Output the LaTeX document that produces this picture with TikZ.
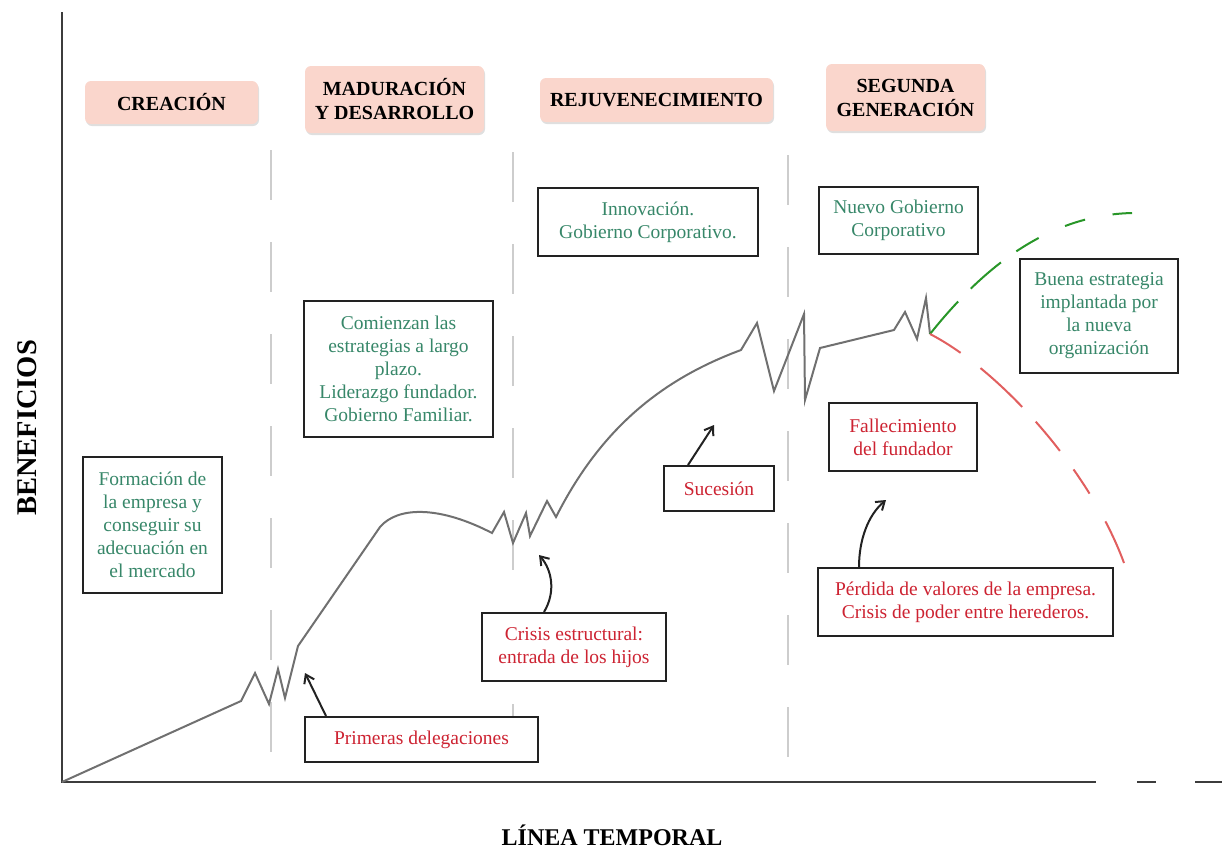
\documentclass[tikz,border=0pt]{standalone}
\usepackage{fontspec}
\setmainfont{Liberation Serif}
\usetikzlibrary{arrows.meta,shadows}
\definecolor{hdrpink}{RGB}{250,214,204}
\definecolor{txtgreen}{RGB}{55,135,105}
\definecolor{txtred}{RGB}{205,35,50}
\definecolor{boxline}{RGB}{34,34,34}
\definecolor{curvegray}{RGB}{112,112,112}
\definecolor{divgray}{RGB}{205,205,205}
\definecolor{axisgray}{RGB}{60,60,60}
\definecolor{futgreen}{RGB}{40,150,40}
\definecolor{futred}{RGB}{225,95,95}
\begin{document}
\begin{tikzpicture}[x=1pt,y=-1pt,
  hdr/.style={fill=hdrpink, rounded corners=6pt, align=center, inner sep=0pt,
    drop shadow={shadow xshift=1pt, shadow yshift=-2pt, opacity=0.25, fill=gray},
    font=\fontsize{20}{24}\selectfont\bfseries},
  infobox/.style={draw=boxline, line width=2pt, fill=white, align=center, inner sep=0pt,
    font=\fontsize{19.5}{23}\selectfont},
  greenbox/.style={infobox, text=txtgreen},
  redbox/.style={infobox, text=txtred},
  divider/.style={draw=divgray, line width=1.5pt, dash pattern=on 50pt off 42pt},
  axisline/.style={draw=axisgray, line width=2.5pt},
  growth/.style={draw=curvegray, line width=2pt},
  pointer/.style={draw=boxline, line width=2pt, -{Straight Barb[length=8pt,width=11pt]}},
  futuregood/.style={draw=futgreen, line width=2pt,
    dash pattern=on 43pt off 18pt on 40pt off 19pt on 26pt off 29pt on 21pt off 28pt on 22pt off 40pt},
  futurebad/.style={draw=futred, line width=2pt,
    dash pattern=on 36pt off 25pt on 57pt off 20pt on 38pt off 23pt on 29pt off 32pt on 52pt off 40pt},
  axislabel/.style={font=\fontsize{24}{24}\selectfont\bfseries}
]
\useasboundingbox (0,0) rectangle (1222,852);

% axis coordinates
\coordinate (origin) at (62,782);
\coordinate (ytop) at (62,12);
\coordinate (xend) at (1096,782);
\coordinate (d1a) at (1137,782);
\coordinate (d1b) at (1156,782);
\coordinate (d2a) at (1195,782);
\coordinate (d2b) at (1222,782);

% dividers
\coordinate (v1t) at (271,150); \coordinate (v1b) at (271,782);
\coordinate (v2t) at (513,152); \coordinate (v2b) at (513,782);
\coordinate (v3t) at (788,155); \coordinate (v3b) at (788,782);
\draw[divider] (v1t) -- (v1b);
\draw[divider] (v2t) -- (v2b);
\draw[divider] (v3t) -- (v3b);

% axes
\draw[axisline] (ytop) -- (origin) -- (xend);
\draw[axisline] (d1a) -- (d1b);
\draw[axisline] (d2a) -- (d2b);

% growth curve
\coordinate (split) at (930,334);
\draw[growth] (origin) -- (241,701) -- (255,673) -- (269,704) -- (278,669) -- (285,698)
  -- (298,646) -- (380,527) .. controls (398,506) and (440,506) .. (492,533)
  -- (504,512) -- (513,543) -- (526,513) -- (530,536) -- (547,501) -- (556,517)
  .. controls (600,430) and (660,380) .. (741,350)
  -- (757,323) -- (774,391) -- (804,314) -- (805,400) -- (820,348)
  -- (894,330) -- (905,312) -- (917,339) -- (926,298) -- (split);

% future branches
\coordinate (goodend) at (1132,213);
\coordinate (badend) at (1124,563);
\draw[futuregood] (split) .. controls (985,265) and (1050,215) .. (goodend);
\draw[futurebad] (split) .. controls (1000,370) and (1090,470) .. (badend);

% headers
\node[hdr, minimum width=173pt, minimum height=43pt] (creacion) at (171.5,102.5) {CREACIÓN};
\node[hdr, minimum width=179pt, minimum height=67pt] (madur) at (394.5,99.5) {MADURACIÓN\\Y DESARROLLO};
\node[hdr, minimum width=233pt, minimum height=44pt] (rejuv) at (656.5,100) {REJUVENECIMIENTO};
\node[hdr, minimum width=159pt, minimum height=67pt] (segunda) at (905.5,97.5) {SEGUNDA\\GENERACIÓN};

% info boxes
\node[greenbox, minimum width=139pt, minimum height=136pt] (formacion) at (152.5,525)
  {Formación de\\la empresa y\\conseguir su\\adecuación en\\el mercado};
\node[greenbox, minimum width=189pt, minimum height=136pt] (comienzan) at (398.5,369)
  {Comienzan las\\estrategias a largo\\plazo.\\Liderazgo fundador.\\Gobierno Familiar.};
\node[greenbox, minimum width=220pt, minimum height=68pt] (innovacion) at (648,222)
  {Innovación.\\Gobierno Corporativo.};
\node[greenbox, minimum width=159pt, minimum height=67pt] (nuevo) at (898.5,220.5)
  {Nuevo Gobierno\\Corporativo};
\node[greenbox, minimum width=158pt, minimum height=114pt] (buena) at (1099,316)
  {Buena estrategia\\implantada por\\la nueva\\organización};
\node[redbox, minimum width=148pt, minimum height=68pt] (fallec) at (903,437)
  {Fallecimiento\\del fundador};
\node[redbox, minimum width=110pt, minimum height=45pt] (sucesion) at (719,488.5)
  {Sucesión};
\node[redbox, minimum width=295pt, minimum height=68pt] (perdida) at (965.5,602)
  {Pérdida de valores de la empresa.\\Crisis de poder entre herederos.};
\node[redbox, minimum width=184pt, minimum height=68pt] (crisis) at (574,647)
  {Crisis estructural:\\entrada de los hijos};
\node[redbox, minimum width=233pt, minimum height=45pt] (primeras) at (421.5,739.5)
  {Primeras delegaciones};

% pointers
\coordinate (tipprim) at (305,673);
\coordinate (tipcris) at (539,555);
\coordinate (tipsuc) at (714,425);
\coordinate (tipperd) at (886,500);
\draw[pointer] ([xshift=22pt]primeras.north west) -- (tipprim);
\draw[pointer] ([xshift=63pt]crisis.north west) .. controls (556,592) and (552,570) .. (tipcris);
\draw[pointer] ([xshift=25pt]sucesion.north west) -- (tipsuc);
\draw[pointer] ([xshift=42pt]perdida.north west) .. controls (859,540) and (868,515) .. (tipperd);

% axis labels
\node[rotate=90, font=\fontsize{28.5}{28.5}\selectfont\bfseries] (ylab) at (27,428) {BENEFICIOS};
\node[axislabel] (xlab) at (612,835) {LÍNEA TEMPORAL};
\end{tikzpicture}
\end{document}
